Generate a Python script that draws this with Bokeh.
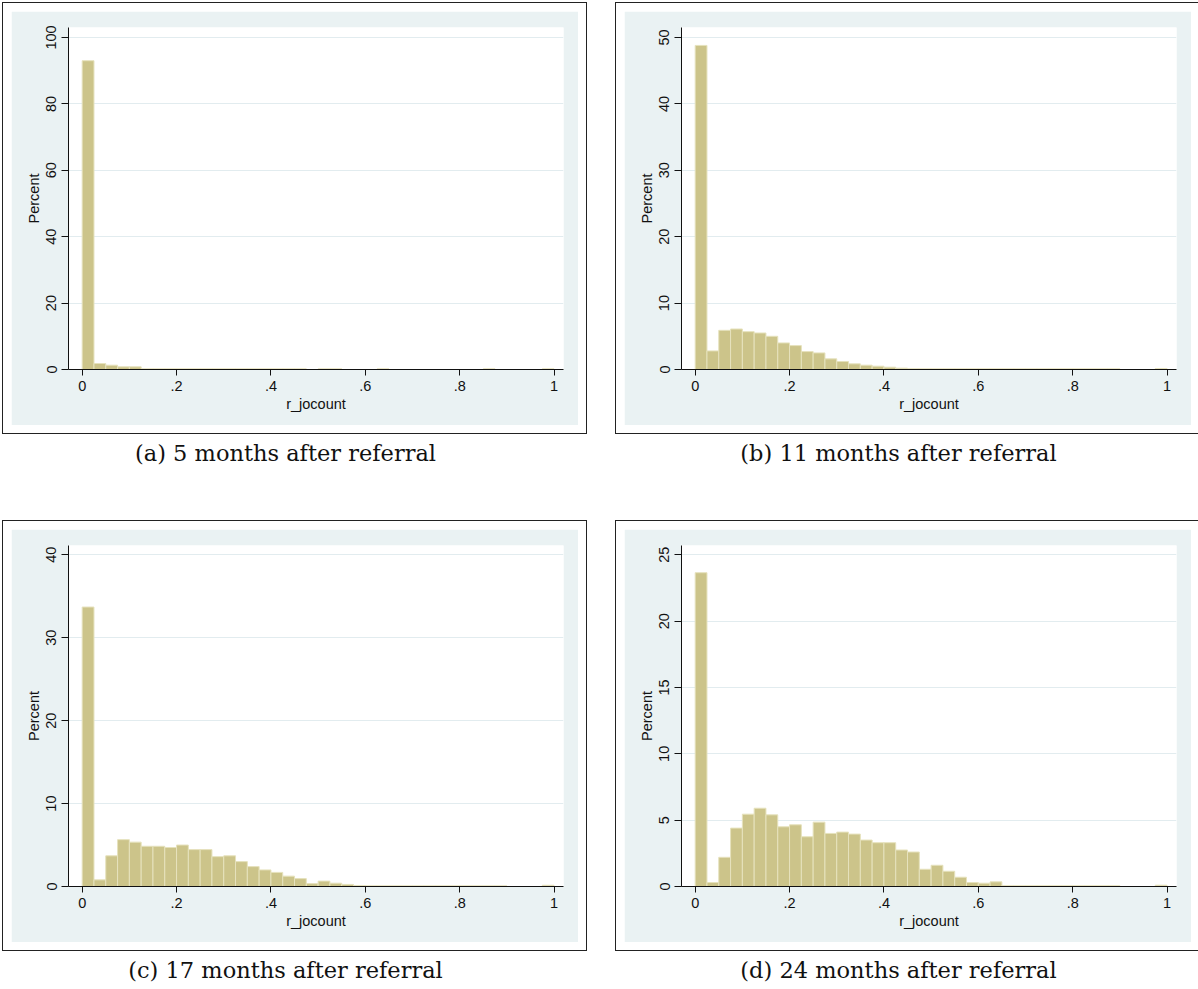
from bokeh.plotting import figure
from bokeh.models import Range1d, FixedTicker, Label
from bokeh.layouts import column, row
from bokeh.embed import file_html
from bokeh.resources import INLINE

# Histogram of r_jocount: 40 bins of width 0.025 on [0, 1], heights in percent
BIN_WIDTH = 0.025
N_BINS = 40

pct_5m = [93.0, 1.8, 1.3, 0.8, 0.8,
          0.2, 0.2, 0.2, 0.2, 0.2, 0.2, 0.2, 0.2, 0.2, 0.2, 0.2, 0.2, 0.2, 0.2,
          0.0, 0.2, 0.2, 0.0, 0.0, 0.0, 0.2,
          0.0, 0.0, 0.0, 0.0, 0.0, 0.0, 0.0, 0.0, 0.2,
          0.0, 0.0, 0.0, 0.0, 0.2]

pct_11m = [48.8, 2.8, 5.9, 6.1, 5.7, 5.5, 5.0, 4.0, 3.6, 2.7,
           2.5, 1.6, 1.2, 0.85, 0.65, 0.5, 0.35, 0.2,
           0.12, 0.1, 0.1, 0.1, 0.1, 0.1, 0.1, 0.1, 0.1, 0.1,
           0.1, 0.1, 0.1, 0.1, 0.1, 0.1, 0.1, 0.1,
           0.0, 0.0, 0.0, 0.15]

pct_17m = [33.7, 0.8, 3.7, 5.65, 5.35, 4.85, 4.85, 4.7, 5.0, 4.45,
           4.45, 3.6, 3.7, 3.0, 2.4, 2.0, 1.7, 1.25, 0.95, 0.35,
           0.65, 0.4, 0.25, 0.12, 0.08, 0.08, 0.08, 0.08, 0.08, 0.08,
           0.08, 0.08, 0.08, 0.08, 0.08, 0.08,
           0.0, 0.0, 0.0, 0.15]

pct_24m = [23.65, 0.3, 2.2, 4.4, 5.45, 5.9, 5.4, 4.5, 4.65, 3.75,
           4.85, 4.0, 4.1, 3.95, 3.5, 3.3, 3.3, 2.75, 2.6, 1.3,
           1.6, 1.15, 0.7, 0.3, 0.25, 0.35, 0.06, 0.06, 0.06, 0.06,
           0.06, 0.06, 0.06, 0.06, 0.06, 0.06,
           0.0, 0.0, 0.0, 0.1]

captions = ["(a) 5 months after referral",
            "(b) 11 months after referral",
            "(c) 17 months after referral",
            "(d) 24 months after referral"]

y_ticks_5m = [0, 20, 40, 60, 80, 100]
y_ticks_11m = [0, 10, 20, 30, 40, 50]
y_ticks_17m = [0, 10, 20, 30, 40]
y_ticks_24m = [0, 5, 10, 15, 20, 25]

x_ticks = [0, 0.2, 0.4, 0.6, 0.8, 1.0]
x_tick_labels = ["0", ".2", ".4", ".6", ".8", "1"]

# styling
REGION = "#EAF2F3"
GRID = "#E2ECEF"
BAR_FILL = "#CCC48A"
BAR_LINE = "#E6E2BD"
SANS = "Liberation Sans"
SERIF = "DejaVu Serif"
PANEL_W = 567


def histogram_panel(pct, y_end, y_ticks, height):
    p = figure(width=PANEL_W, height=height,
               x_range=Range1d(-0.029, 1.02), y_range=Range1d(0, y_end),
               output_backend="svg", toolbar_location=None,
               min_border_left=57, min_border_right=15,
               min_border_top=16, min_border_bottom=56,
               border_fill_color=REGION, background_fill_color="white",
               outline_line_color=None,
               styles={"outline": "1px solid #222", "outline-offset": "8px",
                       "z-index": "1"})

    left = [i * BIN_WIDTH for i in range(N_BINS) if pct[i] > 0]
    right = [(i + 1) * BIN_WIDTH for i in range(N_BINS) if pct[i] > 0]
    top = [v for v in pct if v > 0]
    p.quad(left=left, right=right, bottom=0, top=top,
           fill_color=BAR_FILL, line_color=BAR_LINE, line_width=1)

    p.xgrid.visible = False
    p.ygrid.ticker = FixedTicker(ticks=y_ticks)
    p.ygrid.grid_line_color = GRID
    p.ygrid.grid_line_width = 1

    xa = p.xaxis[0]
    xa.ticker = FixedTicker(ticks=x_ticks)
    xa.major_label_overrides = dict(zip(x_ticks, x_tick_labels))
    xa.axis_label = "r_jocount"
    xa.major_tick_out = 6
    xa.major_label_standoff = 5

    ya = p.yaxis[0]
    ya.ticker = FixedTicker(ticks=y_ticks)
    ya.axis_label = "Percent"
    ya.major_label_orientation = "vertical"
    ya.major_tick_out = 7
    ya.major_label_standoff = 5

    for ax in (xa, ya):
        ax.major_tick_in = 0
        ax.minor_tick_line_color = None
        ax.axis_line_color = "#111111"
        ax.major_tick_line_color = "#111111"
        ax.major_label_text_font = SANS
        ax.major_label_text_font_size = "14.5px"
        ax.major_label_text_color = "#111111"
        ax.axis_label_text_font = SANS
        ax.axis_label_text_font_size = "14.5px"
        ax.axis_label_text_font_style = "normal"
        ax.axis_label_text_color = "#111111"
        ax.axis_label_standoff = 2
    return p


def caption_panel(text, height):
    # transparent canvas so the panel frames above stay visible
    c = figure(width=PANEL_W, height=height,
               x_range=Range1d(0, PANEL_W), y_range=Range1d(height, 0),
               x_axis_type=None, y_axis_type=None,
               output_backend="svg", toolbar_location=None,
               min_border=0, outline_line_color=None,
               border_fill_color=None, background_fill_color=None)
    c.xgrid.visible = False
    c.ygrid.visible = False
    c.add_layout(Label(x=274, y=27, text=text, text_align="center",
                       text_baseline="middle", text_font=SERIF,
                       text_font_size="22.5px", text_color="#111111"))
    return c


pa = histogram_panel(pct_5m, 103.0, y_ticks_5m, 414)
pb = histogram_panel(pct_11m, 51.5, y_ticks_11m, 414)
pc = histogram_panel(pct_17m, 41.12, y_ticks_17m, 413)
pd = histogram_panel(pct_24m, 25.70, y_ticks_24m, 413)

ca = caption_panel(captions[0], 104)
cb = caption_panel(captions[1], 104)
cc = caption_panel(captions[2], 47)
cd = caption_panel(captions[3], 47)

page = column(
    row(pa, pb, spacing=46),
    row(ca, cb, spacing=46),
    row(pc, pd, spacing=46),
    row(cc, cd, spacing=46),
    spacing=0, margin=(11, 0, 0, 11),
)

open("out.html", "w").write(file_html(page, INLINE))
